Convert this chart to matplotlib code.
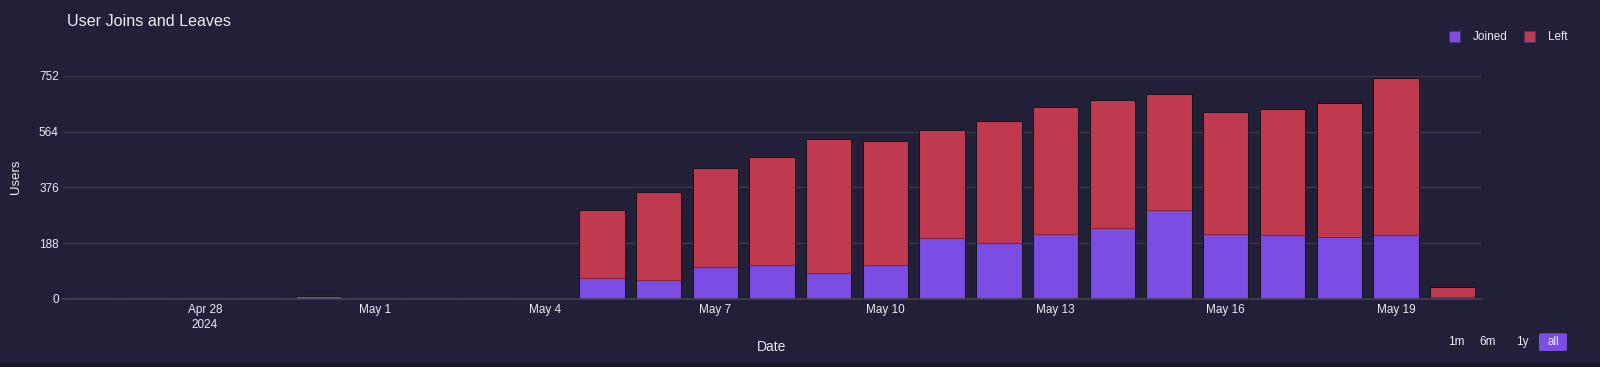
import datetime as dt
import matplotlib
matplotlib.use('Agg')
import matplotlib.pyplot as plt
import matplotlib.dates as mdates
from matplotlib.patches import Rectangle, FancyBboxPatch

plt.rcParams['font.family'] = ['Liberation Sans', 'DejaVu Sans']

# data
start = dt.date(2024, 4, 26)
days = [start + dt.timedelta(days=i) for i in range(25)]
joined = [0, 0, 0, 0, 8, 0, 0, 0, 0,
          69, 63, 107, 113, 86, 113, 204, 189, 219, 239, 299, 219, 214, 207, 214, 7]
left = [0, 0, 0, 0, 0, 0, 0, 0, 3,
        232, 297, 335, 365, 453, 419, 365, 410, 427, 433, 391, 412, 426, 455, 532, 34]
y_ticks = [0, 188, 376, 564, 752]
x_ticks = [dt.date(2024, 4, 28) + dt.timedelta(days=3 * i) for i in range(8)]
x_labels = ['Apr 28\n2024', 'May 1', 'May 4', 'May 7', 'May 10', 'May 13', 'May 16', 'May 19']

BG = '#221f38'
PURPLE = '#7b4de2'
RED = '#bf3a4e'
TXT = '#ecebf3'
GRID = '#3b3941'

fig = plt.figure(figsize=(16, 3.67), dpi=100)
fig.patch.set_facecolor(BG)
W, H = 1600, 367
ax = fig.add_axes([63 / W, 1 - 298.7 / H, (1481 - 63) / W, (298.7 - 76) / H])
ax.set_facecolor(BG)

ax.bar(days, joined, width=0.8, color=PURPLE, edgecolor='#5b3aa6', linewidth=0.8, zorder=3)
ax.bar(days, left, width=0.8, bottom=joined, color=RED, edgecolor='#8c2536', linewidth=0.8, zorder=3)
# dark outline around each stack
totals = [j + l for j, l in zip(joined, left)]
ax.bar(days, totals, width=0.8, fill=False, edgecolor='#15131f', linewidth=0.7, zorder=4)

ax.set_xlim(mdates.date2num(dt.date(2024, 4, 25)) + 0.5, mdates.date2num(dt.date(2024, 5, 20)) + 0.5)
ax.set_ylim(0, 752)
ax.set_yticks(y_ticks)
ax.set_yticklabels([str(v) for v in y_ticks])
ax.set_xticks(x_ticks)
ax.set_xticklabels(x_labels, linespacing=1.35)
ax.tick_params(axis='both', length=0, colors=TXT, labelsize=8.5)
ax.tick_params(axis='x', pad=4)
ax.tick_params(axis='y', pad=3)
ax.grid(axis='y', color=GRID, linewidth=1, zorder=0)
for s in ['top', 'right', 'left']:
    ax.spines[s].set_visible(False)
ax.spines['bottom'].set_color('#44424c')
ax.spines['bottom'].set_linewidth(1.2)
ax.spines['bottom'].set_zorder(5)

fig.text(16 / W, 1 - 177 / H, 'Users', rotation=90, color=TXT, fontsize=9.5, ha='center', va='center')
fig.text(772 / W, 1 - 346.7 / H, 'Date', color=TXT, fontsize=10, ha='center', va='center')
fig.text(67 / W, 1 - 22 / H, 'User Joins and Leaves', color=TXT, fontsize=11.6, ha='left', va='center')

# legend
for x0, col, name in [(1449, PURPLE, 'Joined'), (1524, RED, 'Left')]:
    fig.patches.append(Rectangle((x0 / W, 1 - 42 / H), 11 / W, 11 / H, transform=fig.transFigure,
                                 facecolor=col, edgecolor='#4a3a70', linewidth=0.6))
    fig.text((x0 + 24) / W, 1 - 36.5 / H, name, color=TXT, fontsize=8.5, ha='left', va='center')

# range buttons
fig.patches.append(FancyBboxPatch((1539 / W, 1 - 351 / H), 28 / W, 17.7 / H, transform=fig.transFigure,
                                  boxstyle='round,pad=0,rounding_size=0.002', facecolor=PURPLE, edgecolor='none'))
for xc, lab in [(1456, '1m'), (1488, '6m'), (1522, '1y'), (1553, 'all')]:
    fig.text(xc / W, 1 - 342.3 / H, lab, color=TXT, fontsize=8.5, ha='center', va='center')

# darker strip along the bottom edge
fig.patches.append(Rectangle((0, 0), 1, 4.5 / H, transform=fig.transFigure, facecolor='#1a1828', edgecolor='none'))

fig.savefig('out.png', dpi=100, facecolor=BG)
